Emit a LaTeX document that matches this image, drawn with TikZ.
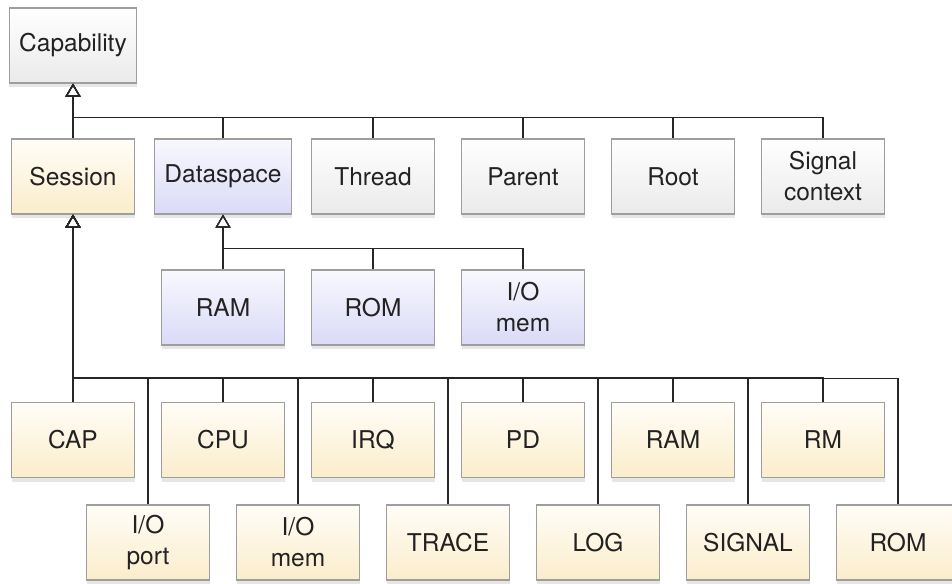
\documentclass[tikz,border=0pt]{standalone}
\usepackage{fontspec}
\setmainfont{TeX Gyre Heros}
\usetikzlibrary{positioning,shadows,arrows.meta}
\definecolor{boxline}{HTML}{9E9E9E}
\definecolor{graybot}{HTML}{EAEAEA}
\definecolor{yellowtop}{HTML}{FFFDF8}
\definecolor{yellowbot}{HTML}{FBEDCB}
\definecolor{bluetop}{HTML}{F8F8FE}
\definecolor{bluebot}{HTML}{DADAF7}
\definecolor{labeltext}{HTML}{222222}

\begin{document}
\begin{tikzpicture}[
  x=1pt, y=1pt, on grid, node distance=150pt,
  basebox/.style={rectangle, draw=boxline, line width=1.2pt, minimum width=123pt, minimum height=75pt, inner xsep=10pt, align=center, text=labeltext, font=\fontsize{24.5}{31}\selectfont, drop shadow={shadow xshift=0pt, shadow yshift=-4pt, opacity=0.2}},
  graybox/.style={basebox, top color=white, bottom color=graybot},
  yellowbox/.style={basebox, top color=yellowtop, bottom color=yellowbot},
  bluebox/.style={basebox, top color=bluetop, bottom color=bluebot},
  isa/.style={line width=1.2pt, draw=black!85, -{Triangle[open, length=13pt, width=15pt]}}
]
\useasboundingbox (0,0) rectangle (952,-583);

%Nodes top
\node[graybox] (cap) at (73,-45.5) {Capability};
\node[yellowbox, below=131pt of cap] (sess) {Session};
\node[bluebox, right=of sess] (data) {Dataspace};
\node[graybox, right=of data] (thread) {Thread};
\node[graybox, right=of thread] (parent) {Parent};
\node[graybox, right=of parent] (root) {Root};
\node[graybox, right=of root] (sigctx) {Signal\\context};

%Nodes dataspaces
\node[bluebox, below=131pt of data] (dram) {RAM};
\node[bluebox, right=of dram] (drom) {ROM};
\node[bluebox, right=of drom] (diomem) {I/O\\mem};

%Nodes sessions
\node[yellowbox, below=263.5pt of sess] (capsess) {CAP};
\node[yellowbox, right=of capsess] (cpu) {CPU};
\node[yellowbox, right=of cpu] (irq) {IRQ};
\node[yellowbox, right=of irq] (pd) {PD};
\node[yellowbox, right=of pd] (sram) {RAM};
\node[yellowbox, right=of sram] (rm) {RM};
\node[yellowbox, below right=102.5pt and 75pt of capsess] (ioport) {I/O\\port};
\node[yellowbox, right=of ioport] (siomem) {I/O\\mem};
\node[yellowbox, right=of siomem] (trace) {TRACE};
\node[yellowbox, right=of trace] (log) {LOG};
\node[yellowbox, right=of log] (signal) {SIGNAL};
\node[yellowbox, right=of signal] (srom) {ROM};

%Arrows top
\draw[isa] (sess) -- (cap);
\draw[isa] (data.north) -- ++(0,21) -| (cap.south);
\draw[isa] (thread.north) -- ++(0,21) -| (cap.south);
\draw[isa] (parent.north) -- ++(0,21) -| (cap.south);
\draw[isa] (root.north) -- ++(0,21) -| (cap.south);
\draw[isa] (sigctx.north) -- ++(0,21) -| (cap.south);

%Arrows dataspaces
\draw[isa] (dram) -- (data);
\draw[isa] (drom.north) -- ++(0,21) -| (data.south);
\draw[isa] (diomem.north) -- ++(0,21) -| (data.south);

%Arrows sessions
\draw[isa] (capsess) -- (sess);
\draw[isa] (cpu.north) -- ++(0,24) -| (sess.south);
\draw[isa] (irq.north) -- ++(0,24) -| (sess.south);
\draw[isa] (pd.north) -- ++(0,24) -| (sess.south);
\draw[isa] (sram.north) -- ++(0,24) -| (sess.south);
\draw[isa] (rm.north) -- ++(0,24) -| (sess.south);
\draw[isa] (ioport.north) -- ++(0,126) -| (sess.south);
\draw[isa] (siomem.north) -- ++(0,126) -| (sess.south);
\draw[isa] (trace.north) -- ++(0,126) -| (sess.south);
\draw[isa] (log.north) -- ++(0,126) -| (sess.south);
\draw[isa] (signal.north) -- ++(0,126) -| (sess.south);
\draw[isa] (srom.north) -- ++(0,126) -| (sess.south);
\end{tikzpicture}
\end{document}
